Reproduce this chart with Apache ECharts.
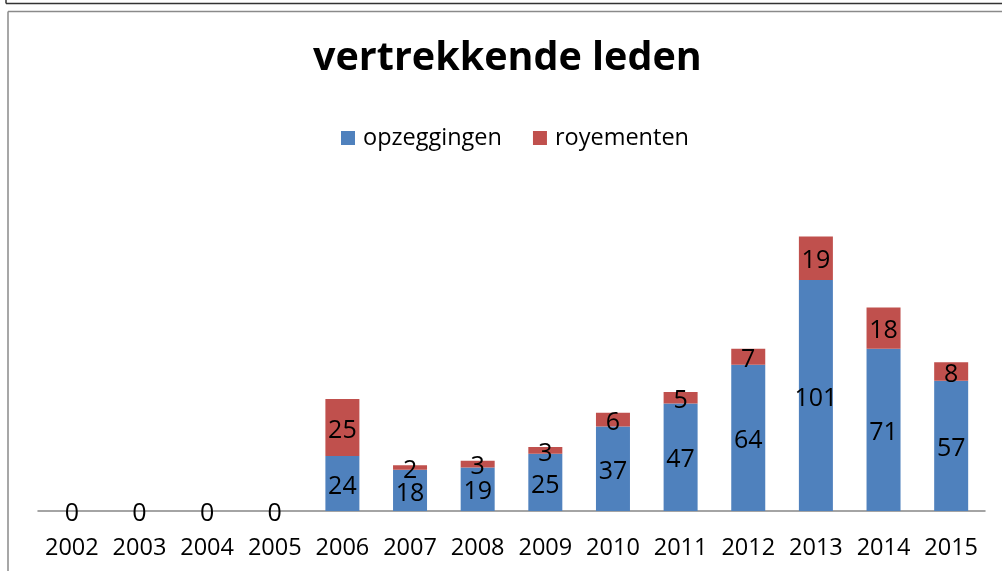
<!DOCTYPE html>
<html>
<head>
<meta charset="utf-8">
<script src="https://cdn.jsdelivr.net/npm/echarts@6/dist/echarts.min.js"></script>
<style>html,body{margin:0;padding:0;background:#fff}#c{width:1002px;height:571px}</style>
</head>
<body>
<div id="c"></div>
<script>
const categories = ['2002','2003','2004','2005','2006','2007','2008','2009','2010','2011','2012','2013','2014','2015'];
const opzeggingen = [0,0,0,0,24,18,19,25,37,47,64,101,71,57];
const royementen = [0,0,0,0,25,2,3,3,6,5,7,19,18,8];
const titleText = 'vertrekkende leden';
const seriesNames = ['opzeggingen','royementen'];

const FONT = '"Open Sans", "Noto Sans", sans-serif';
const chart = echarts.init(document.getElementById('c'), null, {renderer:'canvas'});
chart.setOption({
  animation:false,
  backgroundColor:'#fff',
  title:{text:titleText,left:308,top:34,textStyle:{fontFamily:FONT,fontSize:39.5,fontWeight:'bold',color:'#000'}},
  legend:{data:seriesNames,top:121,left:336,itemWidth:14,itemHeight:14,itemGap:31,icon:'rect',
    textStyle:{fontFamily:FONT,fontSize:23.5,color:'#000',padding:[0,0,0,3]}},
  grid:{left:38,right:17,top:168,bottom:60},
  xAxis:{type:'category',data:categories,
    axisLine:{lineStyle:{color:'#868686',width:1.5}},axisTick:{show:false},
    axisLabel:{interval:0,fontFamily:FONT,fontSize:23.5,color:'#000',margin:25}},
  yAxis:{type:'value',min:0,max:150,show:false,splitLine:{show:false}},
  series:[
    {name:seriesNames[0],type:'bar',stack:'a',data:opzeggingen,barWidth:34,
     itemStyle:{color:'#4F81BD'},
     label:{show:true,position:'inside',offset:[0,3],fontFamily:FONT,fontSize:25,color:'#000'}},
    {name:seriesNames[1],type:'bar',stack:'a',data:royementen,barWidth:34,
     itemStyle:{color:'#C0504D'},
     label:{show:true,position:'inside',offset:[0,3],fontFamily:FONT,fontSize:25,color:'#000',
       formatter:p=>p.value===0?'':String(p.value)}}
  ],
  graphic:[
    {type:'line',shape:{x1:6,y1:3.5,x2:1002,y2:3.5},style:{stroke:'#333',lineWidth:1.5},silent:true},
    {type:'line',shape:{x1:6,y1:0,x2:6,y2:3.5},style:{stroke:'#333',lineWidth:1.5},silent:true},
    {type:'line',shape:{x1:8,y1:11.5,x2:1002,y2:11.5},style:{stroke:'#8a8a8a',lineWidth:1.5},silent:true},
    {type:'line',shape:{x1:8,y1:11.5,x2:8,y2:571},style:{stroke:'#8a8a8a',lineWidth:1.5},silent:true}
  ]
});
</script>
</body>
</html>
